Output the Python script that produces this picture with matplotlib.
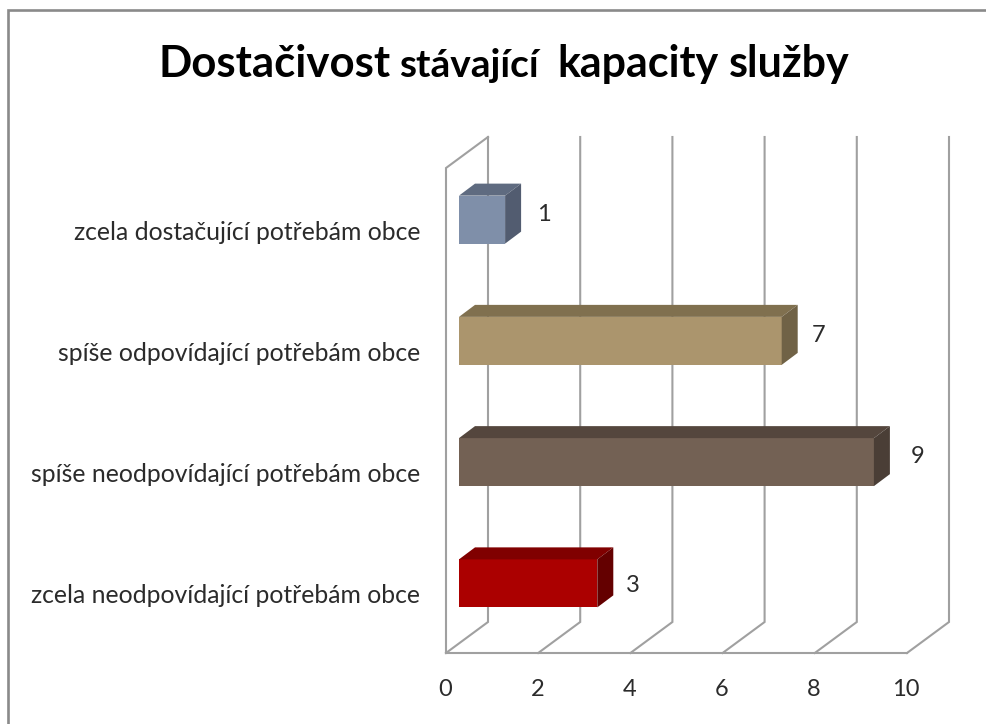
#!/usr/bin/env python3
# -*- coding: utf-8 -*-

"""
Horizontal pseudo-3D bar chart (Excel style) with a walled back plane.
"""

import matplotlib
matplotlib.use('Agg')
from matplotlib import pyplot as plt
from matplotlib.lines import Line2D
from matplotlib.patches import Polygon


categories = ['zcela neodpovídající potřebám obce',
              'spíše neodpovídající potřebám obce',
              'spíše odpovídající potřebám obce',
              'zcela dostačující potřebám obce']
values = [3, 9, 7, 1]
front_colors = ['#AB0000', '#736154', '#AB956D', '#7F8FA9']
top_colors = ['#800000', '#54463D', '#80704F', '#5F6B80']
side_colors = ['#640000', '#4A3E36', '#706246', '#525C70']
xticks = [0, 2, 4, 6, 8, 10]

# where the value labels sit, in pixels from the bar's end and centre
label_dx = [36, 44, 37, 39]
label_dy = [-2, 6, 5, 5]

W, H = 987, 724
GRID = '#a0a0a0'
TEXT = '#2b2b2b'
PX_X, PX_Y = 46.1, 121.25

# depth of the walls and of the bars, in data units
WALL_DX, WALL_DY = 42 / PX_X, 31 / PX_Y
BAR_DX, BAR_DY = 16 / PX_X, 12 / PX_Y
BAR_X0, BAR_Y_SHIFT = 13 / PX_X, 9 / PX_Y
BAR_H = 48 / PX_Y

plt.rcParams['font.family'] = ['Lato', 'DejaVu Sans']

fig = plt.figure(figsize=(W / 100.0, H / 100.0), dpi=100)
fig.patch.set_facecolor('white')

# outer frame of the chart, only left and top are inside the picture
fig.add_artist(Line2D([8.5 / W, 8.5 / W, 1], [0, 1 - 10 / H, 1 - 10 / H],
                      transform=fig.transFigure, color='#8a8a8a', lw=1.9,
                      solid_joinstyle='miter'))

ax = fig.add_axes([446 / W, 1 - 653 / H, (907 - 446) / W, (653 - 168) / H])
ax.set_xlim(0, 10)
ax.set_ylim(-0.5, 3.5)
ax.axis('off')

# WALLS ###################################################################

y_bot, y_top = -0.5, 3.5
for x in xticks:
    ax.plot([x, x + WALL_DX, x + WALL_DX],
            [y_bot, y_bot + WALL_DY, y_top + WALL_DY],
            color=GRID, lw=1.5, clip_on=False, zorder=1,
            solid_joinstyle='miter')
ax.plot([0, 0, WALL_DX], [y_bot, y_top, y_top + WALL_DY],
        color=GRID, lw=1.5, clip_on=False, zorder=1, solid_joinstyle='miter')
ax.plot([0, 10], [y_bot, y_bot], color=GRID, lw=1.5, clip_on=False, zorder=1)

# BARS ####################################################################

positions = range(len(values))
lefts = [BAR_X0] * len(values)
centers = [p + BAR_Y_SHIFT for p in positions]
ax.barh(centers, values, height=BAR_H, left=lefts,
        color=front_colors, zorder=3, clip_on=False)

for p, v in zip(positions, values):
    x0, x1 = BAR_X0, BAR_X0 + v
    b0 = centers[p] - BAR_H / 2
    b1 = centers[p] + BAR_H / 2
    ax.add_patch(Polygon([(x0, b1), (x1, b1), (x1 + BAR_DX, b1 + BAR_DY),
                          (x0 + BAR_DX, b1 + BAR_DY)],
                         fc=top_colors[p], ec='none', zorder=3, clip_on=False))
    ax.add_patch(Polygon([(x1, b0), (x1 + BAR_DX, b0 + BAR_DY),
                          (x1 + BAR_DX, b1 + BAR_DY), (x1, b1)],
                         fc=side_colors[p], ec='none', zorder=3, clip_on=False))
    ax.text(x1 + label_dx[p] / PX_X, centers[p] + label_dy[p] / PX_Y, str(v),
            ha='center', va='center', fontsize=17, color=TEXT, clip_on=False)

# LABELS ##################################################################

for p, label in zip(positions, categories):
    ax.text(-26 / PX_X, p - 3.5 / PX_Y, label, ha='right', va='center',
            fontsize=17.8, color=TEXT, clip_on=False)

for x in xticks:
    ax.text(x - 1 / PX_X, -0.5 - 36 / PX_Y, str(x), ha='center', va='center',
            fontsize=17, color=TEXT, clip_on=False)

# TITLE ###################################################################

fig.text(158 / W, 1 - 77 / H, 'Dostačivost', ha='left', va='baseline',
         fontsize=31.5, fontweight='bold', color='black')
fig.text(399 / W, 1 - 77 / H, 'stávající', ha='left', va='baseline',
         fontsize=28, fontweight='bold', color='black')
fig.text(557 / W, 1 - 77 / H, 'kapacity', ha='left', va='baseline',
         fontsize=31, fontweight='bold', color='black')
fig.text(850 / W, 1 - 77 / H, 'služby', ha='right', va='baseline',
         fontsize=31, fontweight='bold', color='black')

fig.savefig('out.png', dpi=100)
